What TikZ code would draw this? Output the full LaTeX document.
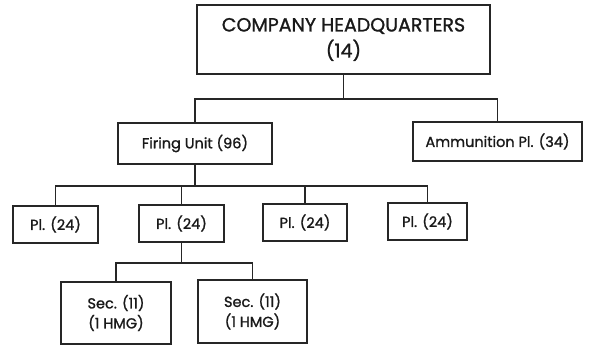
\documentclass[tikz,border=0pt]{standalone}
\usepackage{fontspec}
\setmainfont{Poppins}[FakeBold=1.2]
\usetikzlibrary{positioning}

\begin{document}
\begin{tikzpicture}[
    x=1pt, y=-1pt,
    unit/.style={draw=black!85, line width=1.2pt, fill=white, align=center, inner sep=2pt, text=black!90, font=\fontsize{14.5}{20}\selectfont},
    link/.style={draw=black!85, line width=1.2pt}
]
\useasboundingbox (0,0) rectangle (590,345);

% ================= Nodes =================

% Top level: headquarters
\node[unit, minimum width=293pt, minimum height=69pt, font=\fontsize{19}{26}\selectfont] (hq) at (343.5, 39.5) {COMPANY HEADQUARTERS\\(14)};

% Second level
\node[unit, minimum width=154pt, minimum height=41pt] (firing) at (195, 143.5) {Firing Unit (96)};
\node[unit, minimum width=169pt, minimum height=39pt] (ammo) at (497.5, 141.5) {Ammunition Pl. (34)};

% Platoons
\node[unit, minimum width=85pt, minimum height=37pt] (pl_a) at (55.5, 224.5) {Pl. (24)};
\node[unit, minimum width=85pt, minimum height=37pt] (pl_b) at (181.5, 223.5) {Pl. (24)};
\node[unit, minimum width=84pt, minimum height=37pt] (pl_c) at (305, 222.5) {Pl. (24)};
\node[unit, minimum width=79pt, minimum height=37pt] (pl_d) at (427.5, 221.5) {Pl. (24)};

% Sections
\node[unit, minimum width=110pt, minimum height=62pt] (sec_a) at (116, 313) {Sec. (11)\\(1 HMG)};
\node[unit, minimum width=109pt, minimum height=63pt] (sec_b) at (252.5, 311.5) {Sec. (11)\\(1 HMG)};

% ================= Edges =================

% Headquarters to second level
\coordinate (hq_bar) at (343.5, 99);
\draw[link] (hq.south) -- (hq_bar);
\draw[link] (hq_bar) -| (firing.north);
\draw[link] (hq_bar) -| (ammo.north);

% Firing unit to platoons
\coordinate (fu_bar) at (195, 186);
\draw[link] (firing.south) -- (fu_bar);
\draw[link] (fu_bar) -| (pl_a.north);
\draw[link] (fu_bar) -| (pl_b.north);
\draw[link] (fu_bar) -| (pl_c.north);
\draw[link] (fu_bar) -| (pl_d.north);

% Platoon to sections
\coordinate (pl_bar) at (181.5, 263);
\draw[link] (pl_b.south) -- (pl_bar);
\draw[link] (pl_bar) -| (sec_a.north);
\draw[link] (pl_bar) -| (sec_b.north);

\end{tikzpicture}
\end{document}
